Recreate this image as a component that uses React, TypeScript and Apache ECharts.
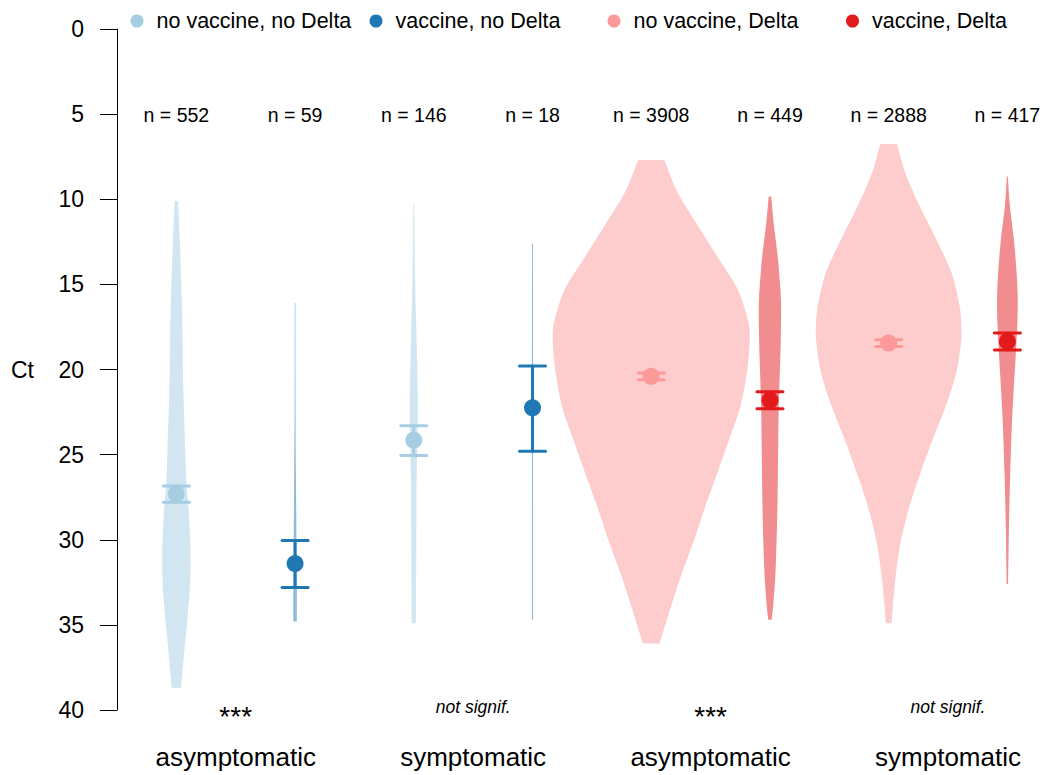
import React, { useEffect, useRef } from 'react';
import * as echarts from 'echarts';

// ---- data ----
const seriesNames = ['no vaccine, no Delta', 'vaccine, no Delta', 'no vaccine, Delta', 'vaccine, Delta'];
const markerColors = ['#a6cee3', '#1f78b4', '#fb9a99', '#e31a1c'];
const violinColors = ['#d2e6f1', '#8fbcda', '#fdcccc', '#f18d8e'];

const groupX = [1, 2, 3, 4, 5, 6, 7, 8];
const groupSeries = [0, 1, 0, 1, 2, 3, 2, 3];
const groupN = [552, 59, 146, 18, 3908, 449, 2888, 417];
const groupMean = [27.3, 31.4, 24.15, 22.25, 20.4, 21.8, 18.45, 18.35];
const groupCiLow = [26.85, 30.05, 23.3, 19.8, 20.2, 21.3, 18.25, 17.85];
const groupCiHigh = [27.8, 32.8, 25.05, 24.8, 20.6, 22.3, 18.65, 18.85];

// violin profiles: [Ct, half width in x-axis units]
const violin1 = [[10.1, 0.014], [12.8, 0.031], [16.7, 0.049], [20.6, 0.057], [24.5, 0.074], [26.5, 0.084], [28.4, 0.105], [30.4, 0.118], [32.3, 0.118], [34.3, 0.097], [36.2, 0.072], [38.7, 0.04]];
const violin2 = [[16.1, 0.003], [22, 0.004], [26, 0.007], [28.5, 0.01], [31, 0.013], [33, 0.015], [34.8, 0.015]];
const violin3 = [[10.3, 0.004], [14.7, 0.011], [18.6, 0.025], [22.5, 0.034], [26.5, 0.024], [30.4, 0.021], [34.9, 0.018]];
const violin4 = [[12.6, 0.004], [20, 0.005], [28, 0.005], [34.7, 0.005]];
const violin5 = [[7.7, 0.11], [9.45, 0.211], [11.4, 0.379], [13.4, 0.56], [15.3, 0.729], [17.3, 0.821], [18.3, 0.83], [20.2, 0.805], [22.2, 0.75], [24.1, 0.657], [26.1, 0.556], [28.05, 0.455], [30.0, 0.362], [32.0, 0.257], [33.9, 0.168], [36.1, 0.07]];
const violin6 = [[9.84, 0.011], [11.4, 0.031], [13.4, 0.066], [15.3, 0.088], [16.3, 0.094], [18.3, 0.091], [20.2, 0.083], [22.2, 0.074], [24.1, 0.07], [26.1, 0.067], [28.05, 0.063], [30.0, 0.056], [32.0, 0.046], [33.9, 0.027], [34.7, 0.014]];
const violin7 = [[6.75, 0.07], [8.47, 0.141], [10.4, 0.261], [12.4, 0.404], [14.35, 0.531], [16.3, 0.598], [17.3, 0.612], [18.3, 0.611], [20.2, 0.569], [22.2, 0.478], [24.1, 0.371], [26.1, 0.267], [28.05, 0.175], [30.0, 0.105], [32.0, 0.061], [33.9, 0.035], [34.9, 0.024]];
const violin8 = [[8.66, 0.004], [10.4, 0.021], [12.4, 0.055], [14.35, 0.078], [15.9, 0.087], [17.3, 0.084], [19.2, 0.07], [21.2, 0.053], [23.2, 0.038], [26.1, 0.024], [29.0, 0.014], [32.6, 0.006]];
const violins = [violin1, violin2, violin3, violin4, violin5, violin6, violin7, violin8];

const categoryX = [1.5, 3.5, 5.5, 7.5];
const categoryLabels = ['asymptomatic', 'symptomatic', 'asymptomatic', 'symptomatic'];
const signifLabels = ['***', 'not signif.', '***', 'not signif.'];

// ---- layout constants ----
const FONT = '"Liberation Sans", Arial, Helvetica, sans-serif';
const N_LABEL_CT = 5;
const SIGNIF_CT = 40;
const legendLeft = [130.5, 369.5, 607.5, 846];

// keep the trimmed (flat) ends of each violin sharp when smoothing
function sharpEnds(pts: number[][]) {
  if (pts.length < 2) return pts;
  return [pts[0], ...pts, pts[pts.length - 1]];
}

export default function App() {
  const ref = useRef<HTMLDivElement>(null);

  useEffect(() => {
    if (!ref.current) return;
    const chart = echarts.init(ref.current, undefined, { renderer: 'svg' });

    const groupSeriesList = seriesNames.map((name, s) => ({
      type: 'custom',
      name,
      itemStyle: { color: markerColors[s] },
      clip: false,
      silent: true,
      encode: { x: 0, y: 1 },
      data: groupX
        .map((x, g) => [x, groupMean[g], groupCiLow[g], groupCiHigh[g], g])
        .filter((d) => groupSeries[d[4]] === s),
      renderItem: (params: any, api: any) => {
        const x = api.value(0);
        const g = api.value(4);
        const prof = violins[g];
        const right = sharpEnds(prof.map(([ct, hw]) => api.coord([x + hw, ct])));
        const left = sharpEnds(
          prof
            .slice()
            .reverse()
            .map(([ct, hw]) => api.coord([x - hw, ct]))
        );
        const c = api.coord([x, api.value(1)]);
        const lo = api.coord([x, api.value(2)]);
        const hi = api.coord([x, api.value(3)]);
        const col = markerColors[s];
        const capW = 13;
        const lineStyle = { stroke: col, lineWidth: 3, lineCap: 'round' };
        return {
          type: 'group',
          children: [
            {
              type: 'polygon',
              shape: { points: right.concat(left), smooth: 0.3 },
              style: { fill: violinColors[s] },
            },
            { type: 'line', shape: { x1: lo[0], y1: lo[1], x2: hi[0], y2: hi[1] }, style: lineStyle },
            { type: 'line', shape: { x1: lo[0] - capW, y1: lo[1], x2: lo[0] + capW, y2: lo[1] }, style: lineStyle },
            { type: 'line', shape: { x1: hi[0] - capW, y1: hi[1], x2: hi[0] + capW, y2: hi[1] }, style: lineStyle },
            { type: 'circle', shape: { cx: c[0], cy: c[1], r: 8.5 }, style: { fill: col } },
          ],
        };
      },
    }));

    const nLabelSeries = {
      type: 'custom',
      name: 'n',
      silent: true,
      clip: false,
      data: groupX.map((x, i) => [x, N_LABEL_CT, i]),
      renderItem: (params: any, api: any) => {
        const p = api.coord([api.value(0), api.value(1)]);
        return {
          type: 'text',
          x: p[0],
          y: p[1] + 1,
          style: {
            text: 'n = ' + groupN[api.value(2)],
            fill: '#000',
            fontSize: 19.5,
            fontFamily: FONT,
            align: 'center',
            verticalAlign: 'middle',
          },
        };
      },
    };

    const signifSeries = {
      type: 'custom',
      name: 'signif',
      silent: true,
      clip: false,
      data: categoryX.map((x, i) => [x, SIGNIF_CT, i]),
      renderItem: (params: any, api: any) => {
        const p = api.coord([api.value(0), api.value(1)]);
        const i = api.value(2);
        const isStar = signifLabels[i] === '***';
        return {
          type: 'text',
          x: p[0],
          y: p[1] + (isStar ? 6 : -3),
          style: {
            text: signifLabels[i],
            fill: '#000',
            fontSize: isStar ? 28 : 17.5,
            fontStyle: isStar ? 'normal' : 'italic',
            fontFamily: FONT,
            align: 'center',
            verticalAlign: 'middle',
          },
        };
      },
    };

    const option: any = {
      animation: false,
      backgroundColor: '#fff',
      textStyle: { fontFamily: FONT },
      grid: { left: 117, right: 0, top: 29, bottom: 65, containLabel: false },
      legend: seriesNames.map((n, i) => ({
        data: [n],
        left: legendLeft[i],
        top: 10,
        padding: 0,
        icon: 'circle',
        itemWidth: 13,
        itemHeight: 13,
        selectedMode: false,
        textStyle: { fontSize: 21.5, color: '#000', fontFamily: FONT, padding: [0, 0, 0, 8] },
      })),
      xAxis: {
        type: 'value',
        min: 0.5,
        max: 8.3,
        interval: 0.5,
        axisLine: { show: false },
        axisTick: { show: false },
        splitLine: { show: false },
        axisLabel: {
          fontSize: 26,
          color: '#000',
          fontFamily: FONT,
          margin: 34,
          showMaxLabel: false,
          formatter: (v: number) => {
            const i = categoryX.findIndex((c) => Math.abs(c - v) < 1e-6);
            return i >= 0 ? categoryLabels[i] : '';
          },
        },
      },
      yAxis: {
        type: 'value',
        inverse: true,
        min: 0,
        max: 40,
        interval: 5,
        name: 'Ct',
        nameLocation: 'middle',
        nameRotate: 0,
        nameGap: 83,
        nameTextStyle: { fontSize: 23, color: '#000', fontFamily: FONT },
        axisLine: { show: true, lineStyle: { color: '#000', width: 1 } },
        axisTick: { show: true, length: 17, lineStyle: { color: '#000', width: 1 } },
        axisLabel: { fontSize: 23, color: '#000', margin: 33, fontFamily: FONT },
        splitLine: { show: false },
      },
      series: [...groupSeriesList, nLabelSeries, signifSeries],
    };

    chart.setOption(option);
    return () => chart.dispose();
  }, []);

  return (
    <div
      ref={ref}
      style={{ position: 'fixed', left: 0, top: 0, width: '1043px', height: '775px', background: '#fff' }}
    />
  );
}
